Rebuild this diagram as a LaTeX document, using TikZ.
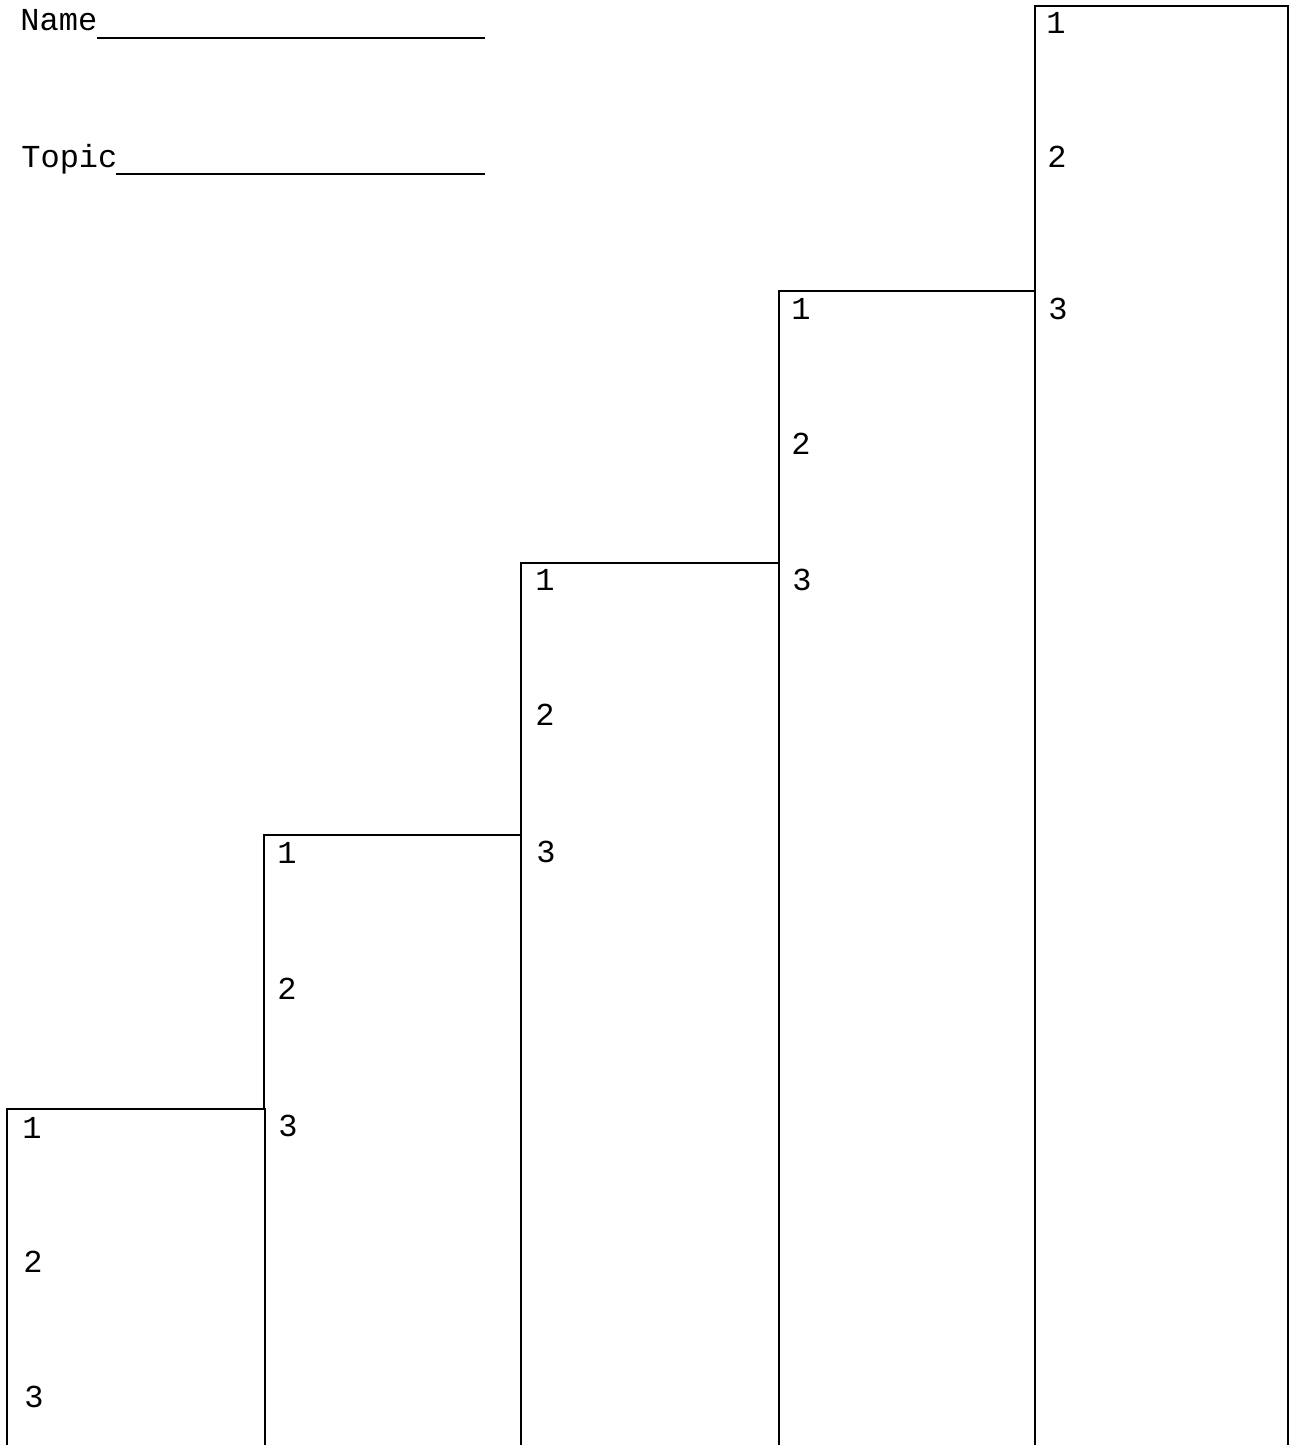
\documentclass[tikz,border=0pt]{standalone}
\usepackage{fontspec}
\setmainfont{Liberation Mono}
\begin{document}
\begin{tikzpicture}[x=0.5pt,y=-0.5pt,
  barline/.style={line width=1pt,line cap=rect},
  num/.style={font=\fontsize{16pt}{18pt}\selectfont,inner sep=0pt,anchor=center},
  lbl/.style={font=\fontsize{16pt}{18pt}\selectfont,inner sep=0pt,anchor=base west},
  uline/.style={line width=0.9pt}]
\useasboundingbox (0,0) rectangle (1296,1445);
% header
\node[lbl] (name) at (20,31) {Name};
\coordinate (nameend) at (485,38);
\draw[uline] (97,38) -- (nameend);
\node[lbl] (topic) at (21,167) {Topic};
\coordinate (topicend) at (485,174);
\draw[uline] (116,174) -- (topicend);
% bars
\draw[barline] (7,1444) -- (7,1109) -- (265,1109) -- (265,1444);
\draw[barline] (264,1109) -- (264,835) -- (521,835) -- (521,1444);
\draw[barline] (521,835) -- (521,563) -- (779,563) -- (779,1444);
\draw[barline] (779,563) -- (779,291) -- (1035,291) -- (1035,1444);
\draw[barline] (1035,291) -- (1035,6) -- (1288,6) -- (1288,1444);
% numbers
\node[num] (a1) at (32,1128) {1};
\node[num] (a2) at (33,1262) {2};
\node[num] (a3) at (34,1397) {3};
\node[num] (b1) at (287,853) {1};
\node[num] (b2) at (287,989) {2};
\node[num] (b3) at (288,1126) {3};
\node[num] (c1) at (545,580) {1};
\node[num] (c2) at (545,715) {2};
\node[num] (c3) at (546,852) {3};
\node[num] (d1) at (801,309) {1};
\node[num] (d2) at (801,444) {2};
\node[num] (d3) at (802,580) {3};
\node[num] (e1) at (1056,23) {1};
\node[num] (e2) at (1057,157) {2};
\node[num] (e3) at (1058,309) {3};
\end{tikzpicture}
\end{document}
